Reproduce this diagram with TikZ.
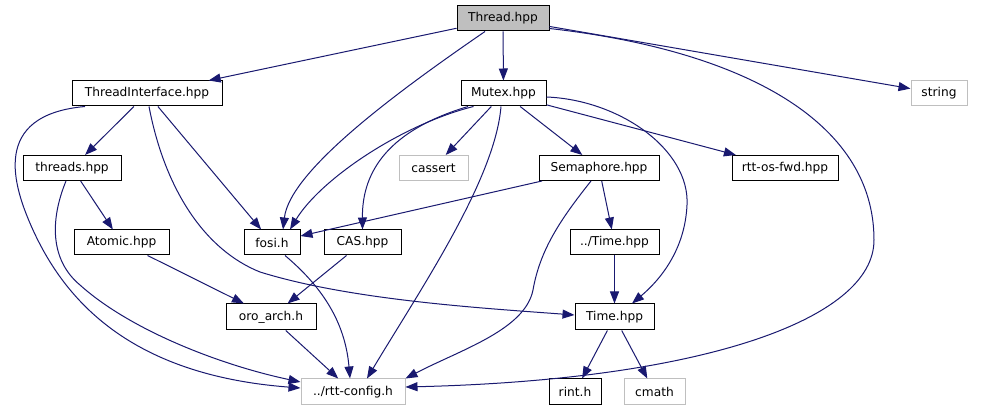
\documentclass[tikz,border=0pt]{standalone}
\usepackage{fontspec}
\setmainfont{DejaVu Sans}
\usetikzlibrary{arrows.meta,calc}
\definecolor{edgecol}{RGB}{25,25,112}
\definecolor{extcol}{RGB}{191,191,191}
\definecolor{rootfill}{RGB}{191,191,191}
\tikzset{
  filebox/.style={draw=black, line width=1pt, fill=white, inner sep=0pt, minimum height=25pt, font=\fontsize{12.2}{14}\selectfont},
  extbox/.style={filebox, draw=extcol},
  rootbox/.style={filebox, fill=rootfill},
  dep/.style={draw=edgecol, line width=1pt, -{Triangle[length=12pt,width=9pt]}}
}
\begin{document}
\begin{tikzpicture}[x=1pt,y=-1pt]
\useasboundingbox[fill=white] (0,0) rectangle (994,411);
% nodes
\node[rootbox, minimum width=92pt] (th) at (503,18.5) {Thread.hpp};
\node[filebox, minimum width=150pt] (ti) at (147,93.5) {ThreadInterface.hpp};
\node[filebox, minimum width=85pt] (mu) at (503.5,93.5) {Mutex.hpp};
\node[extbox, minimum width=56pt] (str) at (939,93.5) {string};
\node[filebox, minimum width=98pt] (thr) at (72,168) {threads.hpp};
\node[extbox, minimum width=69pt] (cas) at (433.5,168) {cassert};
\node[filebox, minimum width=120pt] (sem) at (599,168) {Semaphore.hpp};
\node[filebox, minimum width=106pt] (fwd) at (785,168) {rtt-os-fwd.hpp};
\node[filebox, minimum width=95pt] (at) at (121.5,242.5) {Atomic.hpp};
\node[filebox, minimum width=56pt] (fo) at (272,242.5) {fosi.h};
\node[filebox, minimum width=77pt] (ca) at (362.5,242.5) {CAS.hpp};
\node[filebox, minimum width=89pt] (tim1) at (614.5,242.5) {../Time.hpp};
\node[filebox, minimum width=90pt, minimum height=26pt] (oro) at (271,317) {oro\_arch.h};
\node[filebox, minimum width=79pt, minimum height=26pt] (tim) at (614.5,317) {Time.hpp};
\node[extbox, minimum width=104pt, minimum height=26pt] (cfg) at (353,392) {../rtt-config.h};
\node[filebox, minimum width=52pt, minimum height=26pt] (ri) at (575,392) {rint.h};
\node[extbox, minimum width=61pt, minimum height=26pt] (cm) at (654.5,392) {cmath};
% edges from Thread.hpp
\draw[dep] (th) -- (ti);
\draw[dep] (th) -- (mu);
\draw[dep] (th) -- (str);
\draw[dep] ($(th.south)+(-18,0)$) .. controls (400,90) and (290,170) .. ($(fo.north)+(11,0)$);
\draw[dep] ($(th.south east)+(0,-3)$) .. controls (740,50) and (874,120) .. (874,240)
  .. controls (874,320) and (700,380) .. ($(cfg.east)+(0,-5)$);
% edges from ThreadInterface.hpp
\draw[dep] (ti) -- (thr);
\draw[dep] (ti) -- (fo);
\draw[dep] ($(ti.south)+(2,0)$) .. controls (165,190) and (205,250) .. (260,272)
  .. controls (350,300) and (480,308) .. ($(tim.west)+(0,-2)$);
\draw[dep] ($(ti.south)+(-62,0)$) .. controls (-10,115) and (13,186) .. (33,230)
  .. controls (65,300) and (130,375) .. ($(cfg.west)+(0,-4)$);
% threads.hpp
\draw[dep] (thr) -- (at);
\draw[dep] ($(thr.south)+(-6,0)$) .. controls (50,220) and (50,260) .. (80,285)
  .. controls (130,330) and (220,365) .. ($(cfg.west)+(0,-10)$);
% Atomic, CAS, fosi, oro_arch
\draw[dep] (at) -- (oro);
\draw[dep] (ca) -- (oro);
\draw[dep] ($(fo.south)+(13,0)$) .. controls (320,285) and (345,320) .. ($(cfg.north)+(-3,0)$);
\draw[dep] (oro) -- (cfg);
% Mutex.hpp
\draw[dep] ($(mu.south)+(-30,0)$) .. controls (400,125) and (320,180) .. ($(fo.north)+(18,0)$);
\draw[dep] ($(mu.south)+(-35.5,0)$) .. controls (390,130) and (362,170) .. (ca.north);
\draw[dep] (mu) -- (cas);
\draw[dep] ($(mu.south)+(-2.5,0)$) .. controls (495,180) and (420,290) .. ($(cfg.north)+(14,0)$);
\draw[dep] (mu) -- (sem);
\draw[dep] (mu) -- (fwd);
\draw[dep] ($(mu.east)+(0,3.5)$) .. controls (620,100) and (690,150) .. (687,205)
  .. controls (685,250) and (660,280) .. ($(tim.north)+(17.5,0)$);
% Semaphore.hpp
\draw[dep] (sem) -- (fo);
\draw[dep] (sem) -- (tim1);
\draw[dep] ($(sem.south)+(-8,0)$) .. controls (560,220) and (540,250) .. (533,290)
  .. controls (525,330) and (460,350) .. (cfg.north east);
% Time
\draw[dep] (tim1) -- (tim);
\draw[dep] (tim) -- (ri);
\draw[dep] (tim) -- (cm);
\end{tikzpicture}
\end{document}
